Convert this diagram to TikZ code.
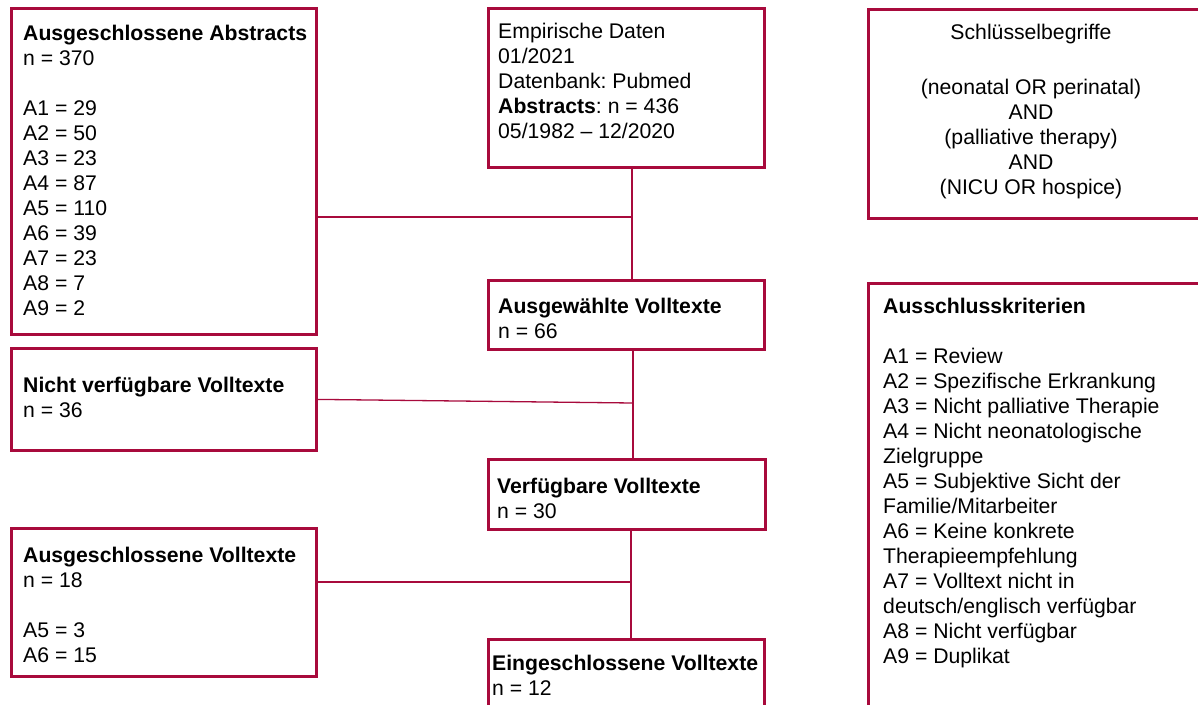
\documentclass[tikz,border=0pt]{standalone}
\usepackage{fontspec}
\setmainfont{Liberation Sans}
\usetikzlibrary{positioning,calc}
\definecolor{prismarot}{RGB}{168,10,60}
\tikzset{
  box/.style={draw=prismarot,line width=2.8pt,anchor=north west,inner sep=0pt},
  txt/.style={anchor=north west,align=left,inner sep=0pt,
    font=\fontsize{21.2}{25}\selectfont\frenchspacing},
  link/.style={draw=prismarot,line width=1.3pt},
}
\begin{document}
\begin{tikzpicture}[x=1pt,y=1pt]
  \useasboundingbox (0,0) rectangle (1198,-704);
  \clip (0,0) rectangle (1198,-704);
  % left column
  \node[box,minimum width=305pt,minimum height=326pt] (exabs) at (10,-7) {};
  \node[box,minimum width=305pt,minimum height=102pt] (nverf) at (10,-347) {};
  \node[box,minimum width=305pt,minimum height=148pt] (exvoll) at (10,-527) {};
  % middle column
  \node[box,minimum width=276pt,minimum height=159pt] (daten) at (487,-7) {};
  \node[box,minimum width=276pt,minimum height=69pt] (ausgew) at (487,-279) {};
  \node[box,minimum width=277pt,minimum height=70pt] (verf) at (487,-458) {};
  \node[box,minimum width=276pt,minimum height=80pt] (eingeschl) at (487,-638) {};
  % right column
  \node[box,minimum width=340pt,minimum height=209pt] (keys) at (867,-8) {};
  \node[box,minimum width=340pt,minimum height=440pt] (kriterien) at (867,-282) {};

  % texts
  \node[txt,below right=18pt and 13pt of exabs.north west] (exabstxt)
    {\textbf{Ausgeschlossene Abstracts}\\ n = 370\\[25pt]
     A1 = 29\\ A2 = 50\\ A3 = 23\\ A4 = 87\\ A5 = 110\\ A6 = 39\\
     A7 = 23\\ A8 = 7\\ A9 = 2};
  \node[txt,below right=30pt and 13pt of nverf.north west] (nverftxt)
    {\textbf{Nicht verfügbare Volltexte}\\ n = 36};
  \node[txt,below right=20pt and 13pt of exvoll.north west] (exvolltxt)
    {\textbf{Ausgeschlossene Volltexte}\\ n = 18\\[25pt] A5 = 3\\ A6 = 15};
  \node[txt,below right=16pt and 11pt of daten.north west] (datentxt)
    {Empirische Daten\\ 01/2021\\ Datenbank: Pubmed\\
     \textbf{Abstracts}: n = 436\\ 05/1982 – 12/2020};
  \node[txt,below right=19pt and 11pt of ausgew.north west] (ausgewtxt)
    {\textbf{Ausgewählte Volltexte}\\ n = 66};
  \node[txt,below right=20pt and 10pt of verf.north west] (verftxt)
    {\textbf{Verfügbare Volltexte}\\ n = 30};
  \node[txt,below right=17pt and 5pt of eingeschl.north west] (eingeschltxt)
    {\textbf{Eingeschlossene Volltexte}\\ n = 12};
  \node[txt,anchor=north,align=center] (keystxt) at (1031,-24)
    {Schlüsselbegriffe\\[30pt] (neonatal OR perinatal)\\ AND\\
     (palliative therapy)\\ AND\\ (NICU OR hospice)};
  \node[txt,below right=16pt and 16pt of kriterien.north west] (kriterientxt)
    {\textbf{Ausschlusskriterien}\\[25pt] A1 = Review\\
     A2 = Spezifische Erkrankung\\ A3 = Nicht palliative Therapie\\
     A4 = Nicht neonatologische\\ Zielgruppe\\
     A5 = Subjektive Sicht der\\ Familie/Mitarbeiter\\
     A6 = Keine konkrete\\ Therapieempfehlung\\
     A7 = Volltext nicht in\\ deutsch/englisch verfügbar\\
     A8 = Nicht verfügbar\\ A9 = Duplikat};

  % connectors
  \coordinate (j1) at (632,-217);
  \coordinate (j2) at (633,-403);
  \coordinate (j3) at (631,-582);
  \draw[link] (daten.south -| j1) -- (ausgew.north -| j1);
  \draw[link] (exabs.east |- j1) -- (j1);
  \draw[link] (ausgew.south -| j2) -- (verf.north -| j2);
  \draw[link] (nverf.east) -- (j2);
  \draw[link] (verf.south -| j3) -- (eingeschl.north -| j3);
  \draw[link] (exvoll.east |- j3) -- (j3);
\end{tikzpicture}
\end{document}
